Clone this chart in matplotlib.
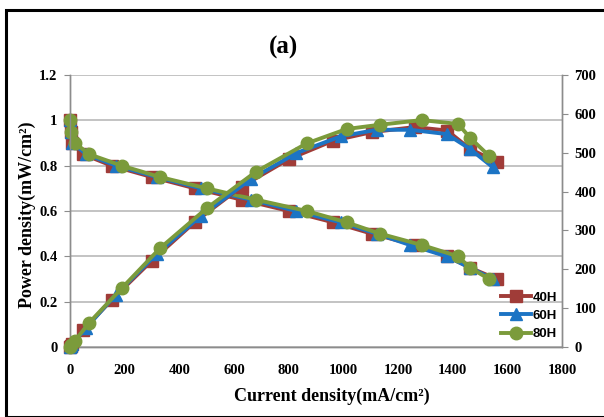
import matplotlib
matplotlib.use("Agg")
import matplotlib.pyplot as plt
from matplotlib.patches import Rectangle

# ---- data ----
series = ["40H", "60H", "80H"]
voltage = [1.0, 0.95, 0.9, 0.85, 0.8, 0.75, 0.70, 0.65, 0.60, 0.55, 0.50, 0.45, 0.40, 0.35, 0.30]

current_40 = [0, 3, 8, 49, 152, 299, 457, 628, 802, 963, 1104, 1262, 1380, 1463, 1561]
current_60 = [0, 3, 8, 60, 168, 318, 478, 662, 828, 990, 1122, 1244, 1378, 1463, 1546]
current_80 = [0, 5, 18, 71, 189, 329, 500, 680, 866, 1012, 1134, 1287, 1420, 1463, 1533]

power_40 = [0, 3, 8, 44, 121, 222, 322, 413, 484, 531, 553, 566, 557, 510, 476]
power_60 = [0, 3, 8, 50, 135, 240, 337, 432, 499, 542, 559, 559, 548, 510, 463]
power_80 = [0, 5, 16, 63, 151, 254, 357, 451, 524, 561, 572, 584, 574, 539, 492]

x_ticks = [0, 200, 400, 600, 800, 1000, 1200, 1400, 1600, 1800]
left_ticks = [0, 0.2, 0.4, 0.6, 0.8, 1.0, 1.2]
left_labels = ["0", "0.2", "0.4", "0.6", "0.8", "1", "1.2"]
right_ticks = [0, 100, 200, 300, 400, 500, 600, 700]

colors = ["#A03C38", "#1C74C4", "#7B9B3B"]
markers = ["s", "^", "o"]
msizes = [9, 9, 9]

currents = [current_40, current_60, current_80]
powers = [power_40, power_60, power_80]

W, H = 604, 417
fig = plt.figure(figsize=(W / 100, H / 100), dpi=100)

# outer frame
fig.patches.append(Rectangle((6 / W, 0), 1.2, (H - 10) / H, transform=fig.transFigure,
                             fill=False, edgecolor="black", linewidth=2.2, zorder=0))

L, R, T, B = 70, 562, 75, 347
ax = fig.add_axes([L / W, 1 - B / H, (R - L) / W, (B - T) / H])
ax2 = ax.twinx()

grid_c = "#BEBEBE"
axis_c = "#8C8C8C"
ax.set_xlim(0, 1800)
ax.set_ylim(0, 1.2)
ax2.set_ylim(0, 700)
ax.yaxis.grid(True, color=grid_c, linewidth=1.3)
ax.set_axisbelow(True)

tick_font = dict(family="Liberation Serif", weight="bold", size=10.5)
ax.set_xticks(x_ticks)
ax.set_xticklabels([str(v) for v in x_ticks], **tick_font)
ax.set_yticks(left_ticks)
ax.set_yticklabels(left_labels, **tick_font)
ax2.set_yticks(right_ticks)
ax2.set_yticklabels([str(v) for v in right_ticks], **tick_font)

ax.tick_params(axis="x", length=0, pad=12)
ax.tick_params(axis="y", length=4, color=axis_c, pad=5)
ax2.tick_params(axis="y", length=4, color=axis_c, pad=5)

for a in (ax, ax2):
    for s in a.spines.values():
        s.set_color(axis_c)
        s.set_linewidth(1.0)
    a.spines["top"].set_visible(False)

for i in range(3):
    ax.plot(currents[i], voltage, color=colors[i], marker=markers[i], ms=msizes[i],
            lw=2.8, clip_on=False, zorder=3 + i)
    ax2.plot(currents[i], powers[i], color=colors[i], marker=markers[i], ms=msizes[i],
             lw=2.8, clip_on=False, zorder=3 + i, label=series[i])

leg = ax2.legend(loc="upper left", bbox_to_anchor=(494 / W, 1 - 285 / H),
                 bbox_transform=fig.transFigure, frameon=False,
                 prop=dict(family="Liberation Sans", weight="bold", size=9.5),
                 handlelength=2.3, handletextpad=0.15, labelspacing=0.45, borderpad=0)

fig.text(283 / W, 1 - 47 / H, "(a)", ha="center", va="center",
         family="Liberation Serif", weight="bold", size=18)
fig.text(332 / W, 1 - 396 / H, "Current density(mA/cm²)", ha="center", va="center",
         family="Liberation Serif", weight="bold", size=13)
fig.text(27 / W, 1 - 215 / H, "Power density(mW/cm²)", ha="center", va="center",
         rotation=90, family="Liberation Serif", weight="bold", size=13)

fig.savefig("out.png", dpi=100)
